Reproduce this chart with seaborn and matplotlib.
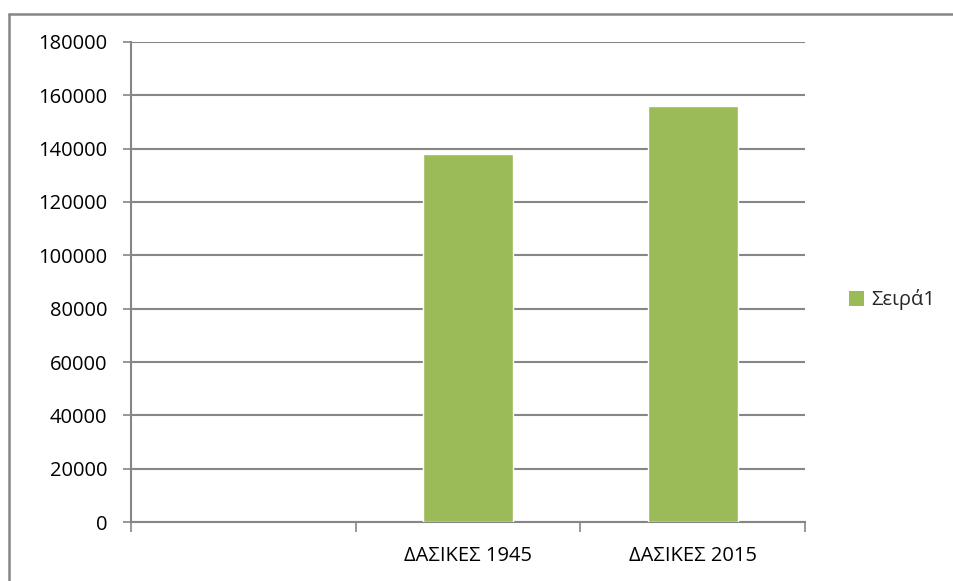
import numpy as np
import pandas as pd
import matplotlib
matplotlib.use("Agg")
import matplotlib.pyplot as plt
from matplotlib.lines import Line2D
from matplotlib.patches import Patch
from matplotlib.ticker import FixedLocator
import seaborn as sns

categories = ["", "ΔΑΣΙΚΕΣ 1945", "ΔΑΣΙΚΕΣ 2015"]
values = [np.nan, 138000, 156000]
series_name = "Σειρά1"
y_ticks = [0, 20000, 40000, 60000, 80000, 100000, 120000, 140000, 160000, 180000]

sns.set_theme(style="white")
plt.rcParams["font.family"] = ["Open Sans", "DejaVu Sans"]

df = pd.DataFrame({"cat": categories, "val": values})

W, H = 954, 581
fig = plt.figure(figsize=(W / 100, H / 100), dpi=100)
ax = fig.add_axes([131 / W, 1 - 522 / H, (805 - 131) / W, (522 - 42) / H])

green = "#9BBB59"
grey = "#868686"
fs = 14.5

sns.barplot(data=df, x="cat", y="val", order=categories, color=green,
            width=0.4, saturation=1, ax=ax, zorder=3)

ax.set_ylim(0, 180000)
ax.set_xlim(-0.5, 2.5)
ax.set_yticks(y_ticks)
ax.set_yticklabels([str(v) for v in y_ticks], fontsize=fs, color="black")
ax.yaxis.grid(True, color=grey, linewidth=1.5, zorder=0)
ax.set_axisbelow(True)
ax.set_xlabel("")
ax.set_ylabel("")

ax.set_xticks(range(len(categories)))
ax.set_xticklabels(categories, fontsize=fs, color="black")
ax.tick_params(axis="x", which="major", length=0, pad=17)
ax.xaxis.set_minor_locator(FixedLocator([-0.5, 0.5, 1.5, 2.5]))
ax.tick_params(axis="x", which="minor", length=7, width=1.2, color=grey, bottom=True)
ax.tick_params(axis="y", which="major", length=6, width=1.2, color=grey, left=True, pad=11)

for s in ["top", "right"]:
    ax.spines[s].set_visible(False)
for s in ["left", "bottom"]:
    ax.spines[s].set_color(grey)
    ax.spines[s].set_linewidth(1.5)

fig.legend(handles=[Patch(facecolor=green, edgecolor="none", label=series_name)],
           loc="center left", bbox_to_anchor=(831 / W, 1 - 300 / H),
           frameon=False, fontsize=fs, handlelength=0.75, handleheight=0.75,
           handletextpad=0.35)

# chart area frame: top and left edges
fig.add_artist(Line2D([9.5 / W, 953 / W], [1 - 14 / H, 1 - 14 / H],
                      transform=fig.transFigure, color=grey, linewidth=1.8))
fig.add_artist(Line2D([9.5 / W, 9.5 / W], [1 - 14 / H, 0],
                      transform=fig.transFigure, color=grey, linewidth=1.8))

fig.savefig("out.png", dpi=100, facecolor="white")
